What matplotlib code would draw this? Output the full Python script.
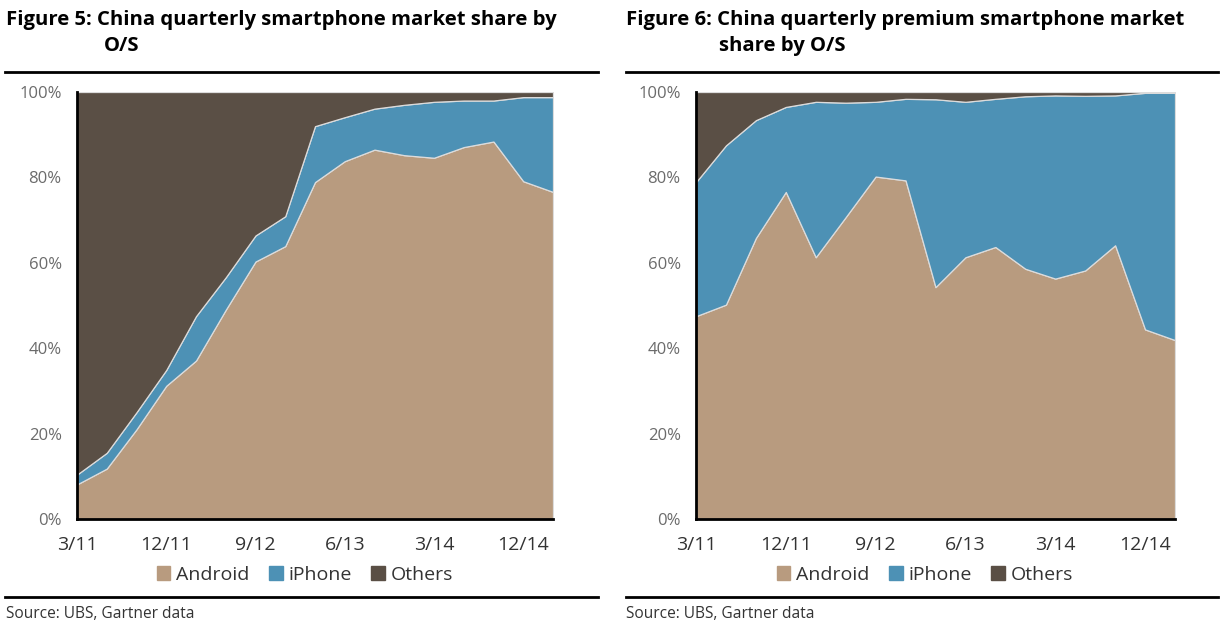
import numpy as np
import matplotlib.pyplot as plt
from matplotlib.lines import Line2D
from matplotlib.patches import Patch

plt.rcParams['font.family'] = ['Open Sans', 'DejaVu Sans']

# quarters 3/11 .. 3/15, only every third one labelled
quarters = ['3/11', '6/11', '9/11', '12/11', '3/12', '6/12', '9/12', '12/12', '3/13',
            '6/13', '9/13', '12/13', '3/14', '6/14', '9/14', '12/14', '3/15']
tick_labels = ['3/11', '12/11', '9/12', '6/13', '3/14', '12/14']

# Figure 5: all smartphones (% share)
android_all = [8.1, 11.8, 21.0, 31.2, 37.1, 49.0, 60.3, 63.9, 78.9, 83.8, 86.5, 85.2,
               84.6, 87.1, 88.4, 79.1, 76.6]
iphone_all = [2.3, 3.7, 4.0, 3.7, 10.4, 7.6, 6.1, 7.0, 13.1, 10.3, 9.6, 11.8,
              13.1, 10.9, 9.6, 19.7, 22.2]
others_all = [100 - a - b for a, b in zip(android_all, iphone_all)]

# Figure 6: premium smartphones (% share)
android_prem = [47.5, 50.2, 65.8, 76.6, 61.3, 70.7, 80.2, 79.3, 54.3, 61.3, 63.7, 58.6,
                56.3, 58.2, 64.1, 44.4, 41.9]
iphone_prem = [31.4, 37.3, 27.6, 19.9, 36.4, 26.8, 17.5, 19.1, 44.0, 36.4, 34.7, 40.4,
               42.9, 40.9, 35.1, 55.4, 57.9]
others_prem = [100 - a - b for a, b in zip(android_prem, iphone_prem)]

c_android = '#B89B7F'
c_iphone = '#4D91B5'
c_others = '#5A4F45'
colors = [c_android, c_iphone, c_others]

W, H = 1228, 626
fig = plt.figure(figsize=(W / 100, H / 100), dpi=100)


def fx(px):
    return px / W


def fy(py):
    return 1 - py / H


def panel(left_px, right_px, android, iphone, others, title1, title2, tx, tx2, rule, leg_x):
    ax = fig.add_axes([fx(left_px), fy(519), fx(right_px - left_px), (519 - 92) / H])
    x = np.arange(len(quarters))
    ax.stackplot(x, android, iphone, others, colors=colors,
                 edgecolor='#dcdcdc', linewidth=0.9)
    ax.set_xlim(0, len(quarters) - 1)
    ax.set_ylim(0, 100)
    ax.set_xticks([quarters.index(t) for t in tick_labels])
    ax.set_xticklabels(tick_labels, fontsize=14, color='#333333')
    ax.set_yticks(range(0, 101, 20))
    ax.set_yticklabels([f'{v}%' for v in range(0, 101, 20)], fontsize=12, color='#6b6b6b')
    ax.tick_params(axis='x', length=0, pad=12)
    ax.tick_params(axis='y', length=0, pad=11)
    for s in ['top', 'right']:
        ax.spines[s].set_visible(False)
    for s in ['left', 'bottom']:
        ax.spines[s].set_linewidth(2)
        ax.spines[s].set_color('black')
        ax.spines[s].set_zorder(5)

    fig.text(fx(tx), fy(25), title1, fontsize=14.6, fontweight='bold', va='baseline')
    fig.text(fx(tx2), fy(51), title2, fontsize=14.6, fontweight='bold', va='baseline')
    fig.add_artist(Line2D([fx(rule[0]), fx(rule[1])], [fy(72), fy(72)], color='black', lw=2))
    fig.add_artist(Line2D([fx(rule[0]), fx(rule[1])], [fy(597), fy(597)], color='black', lw=2))
    fig.text(fx(tx), fy(618), 'Source: UBS, Gartner data', fontsize=11.2, color='#333333',
             va='baseline')

    handles = [Patch(color=c) for c in colors]
    fig.legend(handles, ['Android', 'iPhone', 'Others'], loc='center',
               bbox_to_anchor=(fx(leg_x), fy(575)), ncol=3, frameon=False,
               fontsize=14, handlelength=0.7, handleheight=0.7, handletextpad=0.3,
               columnspacing=1.0, labelcolor='#333333')


panel(77, 553, android_all, iphone_all, others_all,
      'Figure 5: China quarterly smartphone market share by', 'O/S',
      6, 104, (5, 598), 305)
panel(696, 1175, android_prem, iphone_prem, others_prem,
      'Figure 6: China quarterly premium smartphone market', 'share by O/S',
      626, 719, (626, 1218), 925)

fig.savefig('out.png', dpi=100)
